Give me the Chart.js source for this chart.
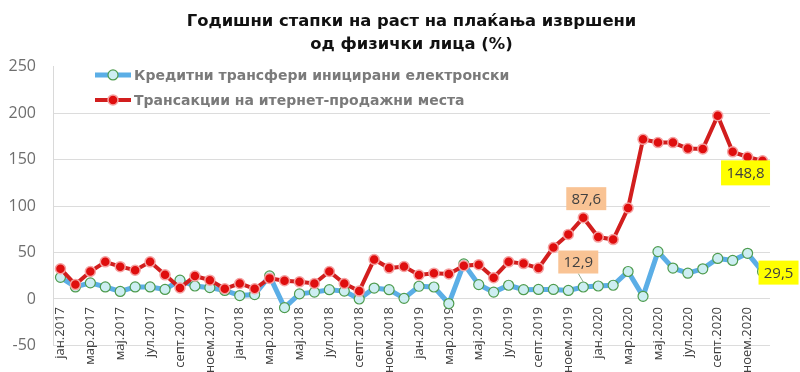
<!DOCTYPE html>
<html lang="mk">
<head>
<meta charset="UTF-8">
<title>Годишни стапки на раст на плаќања</title>
<script src="https://cdn.jsdelivr.net/npm/chart.js"></script>
<style>
    body {
        margin: 0;
        background: #fff;
    }

    #wrap {
        width: 800px;
        height: 372px;
        position: relative;
    }
</style>
</head>
<body>
<div id="wrap"><canvas id="chart"></canvas></div>
<script>
    // months, jan 2017 - dec 2020
    const months = [
        'јан.2017', 'фев.2017', 'мар.2017', 'апр.2017', 'мај.2017', 'јун.2017', 'јул.2017', 'авг.2017', 'септ.2017', 'окт.2017', 'ноем.2017', 'дек.2017',
        'јан.2018', 'фев.2018', 'мар.2018', 'апр.2018', 'мај.2018', 'јун.2018', 'јул.2018', 'авг.2018', 'септ.2018', 'окт.2018', 'ноем.2018', 'дек.2018',
        'јан.2019', 'фев.2019', 'мар.2019', 'апр.2019', 'мај.2019', 'јун.2019', 'јул.2019', 'авг.2019', 'септ.2019', 'окт.2019', 'ноем.2019', 'дек.2019',
        'јан.2020', 'фев.2020', 'мар.2020', 'апр.2020', 'мај.2020', 'јун.2020', 'јул.2020', 'авг.2020', 'септ.2020', 'окт.2020', 'ноем.2020', 'дек.2020'
    ];

    const creditTransfers = [
        23.3, 13, 17.4, 13, 8.1, 13, 13, 10.3, 20.3, 14, 12.2, 9.2,
        3.7, 4.8, 24.8, -9.3, 5.5, 7.4, 10, 8.5, 0, 11.8, 10, 0.7,
        13.7, 12.9, -4.9, 37.8, 15.5, 7.4, 14.8, 10, 10.3, 10.3, 9.2, 12.9,
        14, 14.8, 29.6, 2.9, 51, 33.3, 27.8, 32.5, 43.7, 41.5, 49.2, 29.5
    ];

    const internetSales = [
        32.6, 15.5, 29.6, 40, 34.8, 31, 40, 26, 11.8, 24.8, 20.3, 11,
        16.7, 11, 22.2, 19.6, 18.5, 16.7, 29.6, 16.7, 8.5, 42.6, 33.3, 35,
        25.9, 27.8, 27, 35.9, 37, 22.9, 40, 38.1, 33.3, 55.5, 69.6, 87.6,
        66.7, 64, 98, 172, 168.5, 168.5, 162, 161.7, 197.4, 158.5, 153, 148.8
    ];

    const seriesNames = ['Кредитни трансфери иницирани електронски', 'Трансакции на итернет-продажни места'];
    const titleLines = ['Годишни стапки на раст на плаќања извршени', 'од физички лица (%)'];

    const yMin = -50;
    const yMax = 250;
    const yStep = 50;

    // value labels: dataset index, point index, text
    const callouts = [
        { ds: 1, idx: 35, text: '87,6' },
        { ds: 0, idx: 35, text: '12,9' },
        { ds: 1, idx: 47, text: '148,8' },
        { ds: 0, idx: 47, text: '29,5' }
    ];

    const ORANGE = '#F9C394';
    const YELLOW = '#FFFF00';
    const calloutLook = [
        { dx: 3, dy: -19, w: 40, h: 23, fill: ORANGE, leader: false },
        { dx: -5, dy: -25, w: 40, h: 23, fill: ORANGE, leader: true },
        { dx: -17, dy: 12, w: 49, h: 25, fill: YELLOW, leader: false },
        { dx: 16, dy: 1, w: 40, h: 24, fill: YELLOW, leader: false }
    ];

    const calloutPlugin = {
        id: 'callouts',
        afterDatasetsDraw(chart) {
            const ctx = chart.ctx;
            ctx.save();
            callouts.forEach(function(c, i) {
                const look = calloutLook[i];
                const pt = chart.getDatasetMeta(c.ds).data[c.idx];
                const cx = pt.x + look.dx;
                const cy = pt.y + look.dy;
                if (look.leader) {
                    ctx.strokeStyle = '#8FA98F';
                    ctx.lineWidth = 1;
                    ctx.beginPath();
                    ctx.moveTo(cx, cy + look.h / 2);
                    ctx.lineTo(pt.x, pt.y - 5);
                    ctx.stroke();
                }
                ctx.fillStyle = look.fill;
                ctx.fillRect(cx - look.w / 2, cy - look.h / 2, look.w, look.h);
                ctx.fillStyle = '#404040';
                ctx.font = '15px "Open Sans"';
                ctx.textAlign = 'center';
                ctx.textBaseline = 'middle';
                ctx.fillText(c.text, cx, cy + 1);
            });
            ctx.restore();
        }
    };

    // legend sits inside the plot area, top left
    const innerLegend = {
        id: 'innerLegend',
        afterDraw(chart) {
            const ctx = chart.ctx;
            const top = chart.chartArea.top;
            ctx.save();
            chart.data.datasets.forEach(function(ds, i) {
                const y = top + 8 + i * 25;
                ctx.strokeStyle = ds.borderColor;
                ctx.lineWidth = ds.borderWidth;
                ctx.beginPath();
                ctx.moveTo(95, y);
                ctx.lineTo(131, y);
                ctx.stroke();
                ctx.beginPath();
                ctx.arc(113, y, ds.pointRadius, 0, Math.PI * 2);
                ctx.fillStyle = ds.pointBackgroundColor;
                ctx.fill();
                ctx.lineWidth = ds.pointBorderWidth;
                ctx.strokeStyle = ds.pointBorderColor;
                ctx.stroke();
                ctx.fillStyle = '#7A7A7A';
                ctx.font = 'bold 14px "DejaVu Sans"';
                ctx.textAlign = 'left';
                ctx.textBaseline = 'middle';
                ctx.fillText(ds.label, 134, y + 1);
            });
            ctx.restore();
        }
    };

    const ctx = document.getElementById('chart').getContext('2d');
    const chart = new Chart(ctx, {
        type: 'line',
        data: {
            labels: months,
            datasets: [{
                label: seriesNames[0],
                data: creditTransfers,
                borderColor: '#5BAEE6',
                borderWidth: 5,
                pointRadius: 5,
                pointBackgroundColor: '#CDEEF2',
                pointBorderColor: '#4F9C4F',
                pointBorderWidth: 1.2,
                tension: 0,
                order: 2
            }, {
                label: seriesNames[1],
                data: internetSales,
                borderColor: '#D21E1E',
                borderWidth: 4,
                pointRadius: 5,
                pointBackgroundColor: '#DF0E0E',
                pointBorderColor: '#F5A3A3',
                pointBorderWidth: 1.5,
                tension: 0,
                order: 1
            }]
        },
        options: {
            responsive: true,
            maintainAspectRatio: false,
            animation: false,
            layout: {
                padding: { left: 0, right: 30, top: 0, bottom: 0 }
            },
            plugins: {
                legend: { display: false },
                tooltip: { enabled: false },
                title: {
                    display: true,
                    fullSize: false,
                    text: titleLines,
                    color: '#111',
                    font: { family: 'DejaVu Sans', size: 16.4, weight: 'bold', lineHeight: 1.4 },
                    padding: { top: 10, bottom: 11 }
                }
            },
            scales: {
                x: {
                    offset: true,
                    position: { y: 0 },
                    grid: { display: false, drawTicks: false },
                    border: { display: false },
                    ticks: {
                        autoSkip: false,
                        minRotation: 90,
                        maxRotation: 90,
                        padding: 8,
                        color: '#404040',
                        font: { family: 'Open Sans', size: 13 },
                        callback: function(v, i) {
                            return i % 2 === 0 ? this.getLabelForValue(v) : '';
                        }
                    },
                    afterFit: function(s) { s.height = 33; }
                },
                y: {
                    min: yMin,
                    max: yMax,
                    ticks: {
                        stepSize: yStep,
                        padding: 17,
                        color: '#6E6E6E',
                        font: { family: 'Open Sans', size: 16 }
                    },
                    grid: {
                        drawTicks: false,
                        color: function(c) { return c.tick && c.tick.value === yMax ? 'rgba(0,0,0,0)' : '#DCDCDC'; }
                    },
                    border: { display: true, color: '#D9D9D9' },
                    afterFit: function(s) { s.width = 53; }
                }
            }
        },
        plugins: [calloutPlugin, innerLegend]
    });
</script>
</body>
</html>
